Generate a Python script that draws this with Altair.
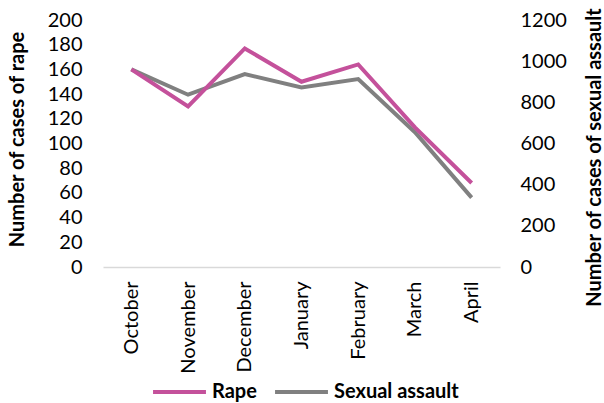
import altair as alt
import pandas as pd

months = ["October", "November", "December", "January", "February", "March", "April"]
rape = [160, 130, 177, 150, 164, 113, 68]
sexual_assault = [960, 837, 937, 872, 913, 655, 337]

df = pd.DataFrame({"month": months, "rape": rape, "sa": sexual_assault})

FONT = "Lato"
PINK = "#C4519B"
GRAY = "#808080"
LBL = 20
TTL = 20

color_scale = alt.Scale(domain=["Rape", "Sexual assault"], range=[PINK, GRAY])

x_enc = alt.X(
    "month:N",
    sort=months,
    scale=alt.Scale(type="point", padding=0.5),
    axis=alt.Axis(
        title=None,
        labelAngle=270,
        labelAlign="right",
        labelBaseline="middle",
        labelPadding=14,
        labelFontSize=LBL,
        labelFont=FONT,
        labelColor="#000000",
        ticks=False,
        domainColor="#d9d9d9",
        domainWidth=1.5,
        grid=False,
    ),
)

legend = alt.Legend(
    title=None,
    orient="none",
    direction="horizontal",
    legendX=48,
    legendY=360,
    symbolType="stroke",
    symbolSize=2800,
    symbolStrokeWidth=4,
    clipHeight=24,
    labelFont=FONT,
    labelFontSize=LBL,
    labelFontWeight="bold",
    labelColor="#000000",
    columnPadding=16,
    labelOffset=4,
    padding=0,
)

rape_line = alt.Chart(df).transform_calculate(series="'Rape'").mark_line(strokeWidth=4).encode(
    x=x_enc,
    y=alt.Y(
        "rape:Q",
        scale=alt.Scale(domain=[0, 200], nice=False),
        axis=alt.Axis(
            title="Number of cases of rape",
            values=list(range(0, 201, 20)),
            format="d",
            orient="left",
            grid=False,
            domain=False,
            ticks=False,
            labelPadding=21,
            labelFontSize=LBL,
            labelFont=FONT,
            labelColor="#000000",
            titleFont=FONT,
            titleFontSize=TTL,
            titleFontWeight="bold",
            titleColor="#000000",
            titleAngle=270,
            titleX=-86,
            titleY=119,
            titleAlign="center",
            titleBaseline="middle",
        ),
    ),
    color=alt.Color("series:N", scale=color_scale, legend=legend),
)

sa_line = alt.Chart(df).transform_calculate(series="'Sexual assault'").mark_line(strokeWidth=4).encode(
    x=x_enc,
    y=alt.Y(
        "sa:Q",
        scale=alt.Scale(domain=[0, 1200], nice=False),
        axis=alt.Axis(
            title="Number of cases of sexual assault",
            values=list(range(0, 1201, 200)),
            format="d",
            orient="right",
            grid=False,
            domain=False,
            ticks=False,
            labelPadding=20,
            labelFontSize=LBL,
            labelFont=FONT,
            labelColor="#000000",
            titleFont=FONT,
            titleFontSize=TTL,
            titleFontWeight="bold",
            titleColor="#000000",
            titleAngle=270,
            titleX=94,
            titleY=137,
            titleAlign="center",
            titleBaseline="middle",
        ),
    ),
    color=alt.Color("series:N", scale=color_scale, legend=legend),
)

chart = (
    alt.layer(sa_line, rape_line)
    .resolve_scale(y="independent")
    .properties(
        width=397,
        height=247,
        autosize=alt.AutoSizeParams(type="none"),
        padding={"left": 103, "top": 20, "right": 104, "bottom": 136},
        background="white",
    )
    .configure_view(stroke=None)
)

chart.save("out.html", embed_options={"renderer": "svg", "actions": False})
